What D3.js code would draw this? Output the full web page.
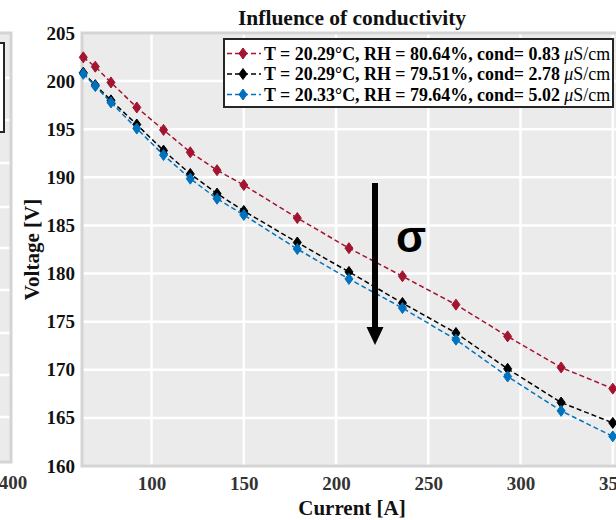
<!DOCTYPE html>
<meta charset="utf-8">
<script src="https://d3js.org/d3.v7.min.js"></script>
<style>
  body { margin: 0; background: #fff; }
  text { font-family: "Liberation Serif", "Times New Roman", serif; }
</style>
<body>
<div id="chart"></div>
<script>
// data
const current = [63, 69.5, 78, 92, 106.5, 121, 135.5, 150, 179, 207, 236, 265, 293, 322, 350];
const v083 = [202.47, 201.5, 199.86, 197.26, 194.93, 192.6, 190.74, 189.2, 185.77, 182.64, 179.72, 176.77, 173.47, 170.24, 168.04];
const v278 = [200.87, 199.58, 198.0, 195.49, 192.78, 190.35, 188.31, 186.51, 183.23, 180.17, 176.94, 173.82, 170.1, 166.6, 164.48];
const v502 = [200.76, 199.48, 197.78, 195.07, 192.32, 189.86, 187.78, 186.09, 182.55, 179.44, 176.42, 173.13, 169.3, 165.73, 163.08];
const seriesNames = ["T = 20.29°C, RH = 80.64%, cond= 0.83", "T = 20.29°C, RH = 79.51%, cond= 2.78", "T = 20.33°C, RH = 79.64%, cond= 5.02"];
const seriesColors = ["#a2142f", "#000000", "#0072bd"];
const xTicks = [100, 150, 200, 250, 300, 350];
const yTicks = [160, 165, 170, 175, 180, 185, 190, 195, 200, 205];

const series = [v083, v278, v502].map((vals, i) => ({
  name: seriesNames[i], color: seriesColors[i],
  points: vals.map((v, j) => ({ x: current[j], y: v }))
}));

const W = 616, H = 520;
const plot = { left: 82, top: 33, right: 622, bottom: 466 };

const svg = d3.select("#chart").append("svg")
  .attr("width", W).attr("height", H);

// partial neighbouring panel on the far left
const left = svg.append("g");
left.append("rect").attr("x", -20).attr("y", 33).attr("width", 31).attr("height", 429)
  .attr("fill", "#ebebeb");
[78, 120, 163, 207, 248, 290, 333, 375, 417].forEach(yy => {
  left.append("line").attr("x1", -20).attr("x2", 11).attr("y1", yy).attr("y2", yy)
    .attr("stroke", "#fff").attr("stroke-width", 2.5);
});
left.append("rect").attr("x", -20).attr("y", 33).attr("width", 31).attr("height", 429)
  .attr("fill", "none").attr("stroke", "#d4d4d4").attr("stroke-width", 3);
left.append("rect").attr("x", -40).attr("y", 43).attr("width", 44).attr("height", 89)
  .attr("fill", "#fff").attr("stroke", "#262626").attr("stroke-width", 2);
left.append("text").attr("x", 13).attr("y", 489).attr("text-anchor", "middle")
  .attr("font-size", 19).attr("font-weight", "bold").attr("fill", "#333").text("400");

// scales
const x = d3.scaleLinear().domain([62.3, 355]).range([plot.left, plot.right]);
const y = d3.scaleLinear().domain([160, 205]).range([plot.bottom, plot.top]);

// background + grid
svg.append("rect")
  .attr("x", plot.left).attr("y", plot.top)
  .attr("width", plot.right - plot.left).attr("height", plot.bottom - plot.top)
  .attr("fill", "#ebebeb");

svg.append("g").selectAll("line").data(xTicks).join("line")
  .attr("x1", d => x(d)).attr("x2", d => x(d))
  .attr("y1", plot.top).attr("y2", plot.bottom)
  .attr("stroke", "#fff").attr("stroke-width", 2.5);
svg.append("g").selectAll("line").data(yTicks).join("line")
  .attr("x1", plot.left).attr("x2", plot.right)
  .attr("y1", d => y(d)).attr("y2", d => y(d))
  .attr("stroke", "#fff").attr("stroke-width", 2.5);

// frame
svg.append("rect")
  .attr("x", plot.left).attr("y", plot.top)
  .attr("width", plot.right - plot.left).attr("height", plot.bottom - plot.top)
  .attr("fill", "none").attr("stroke", "#d4d4d4").attr("stroke-width", 3);

// axes
const yAxis = svg.append("g")
  .attr("transform", `translate(${plot.left},0)`)
  .call(d3.axisLeft(y).tickValues(yTicks).tickSize(0).tickPadding(7));
const xAxis = svg.append("g")
  .attr("transform", `translate(0,${plot.bottom})`)
  .call(d3.axisBottom(x).tickValues(xTicks).tickSize(0).tickPadding(10.5));
[xAxis, yAxis].forEach(a => {
  a.select(".domain").remove();
  a.selectAll("text")
    .attr("font-family", "Liberation Serif, serif")
    .attr("font-size", 19).attr("font-weight", "bold");
});
yAxis.selectAll("text").attr("fill", "#111");
xAxis.selectAll("text").attr("fill", "#333");

// axis titles + title
svg.append("text").attr("x", 352).attr("y", 515).attr("text-anchor", "middle")
  .attr("font-size", 21).attr("font-weight", "bold").attr("fill", "#111").text("Current [A]");
svg.append("text").attr("transform", `translate(39,${(plot.top + plot.bottom) / 2}) rotate(-90)`)
  .attr("text-anchor", "middle")
  .attr("font-size", 21).attr("font-weight", "bold").attr("fill", "#111").text("Voltage [V]");
svg.append("text").attr("x", 352).attr("y", 25).attr("text-anchor", "middle")
  .attr("font-size", 21.5).attr("font-weight", "bold").attr("fill", "#111").text("Influence of conductivity");

// lines and markers
const line = d3.line().x(d => x(d.x)).y(d => y(d.y));
const diamond = "M0,-5.5L4,0L0,5.5L-4,0Z";

series.forEach(s => {
  svg.append("path").datum(s.points)
    .attr("d", line).attr("fill", "none")
    .attr("stroke", s.color).attr("stroke-width", 1.5)
    .attr("stroke-dasharray", "5,3");
  svg.append("g").selectAll("path").data(s.points).join("path")
    .attr("transform", d => `translate(${x(d.x)},${y(d.y)})`)
    .attr("d", diamond).attr("fill", s.color).attr("stroke", s.color).attr("stroke-width", 1);
});

// arrow + sigma
svg.append("line").attr("x1", 375).attr("x2", 375).attr("y1", 183).attr("y2", 330)
  .attr("stroke", "#000").attr("stroke-width", 6);
svg.append("path").attr("d", "M366.5,327L383.5,327L375,345Z").attr("fill", "#000");
svg.append("text").attr("x", 396).attr("y", 252)
  .style("font-family", "Liberation Sans, Arial, sans-serif")
  .attr("font-size", 44).attr("font-weight", "bold").text("σ");

// legend
const lg = svg.append("g");
lg.append("rect").attr("x", 224).attr("y", 39).attr("width", 389).attr("height", 68)
  .attr("fill", "#fff").attr("stroke", "#262626").attr("stroke-width", 2);
series.forEach((s, i) => {
  const cy = 53.5 + i * 20.5;
  lg.append("line").attr("x1", 227).attr("x2", 261).attr("y1", cy).attr("y2", cy)
    .attr("stroke", s.color).attr("stroke-width", 1.5).attr("stroke-dasharray", "5,3");
  lg.append("path").attr("transform", `translate(243,${cy})`).attr("d", diamond)
    .attr("fill", s.color).attr("stroke", s.color);
  const t = lg.append("text").attr("x", 264).attr("y", cy + 6)
    .attr("font-size", 17.9).attr("fill", "#000");
  t.append("tspan").attr("font-weight", "bold").text(s.name + "  ");
  t.append("tspan").attr("font-style", "italic").text("μ");
  t.append("tspan").text("S/cm");
});
</script>
</body>
